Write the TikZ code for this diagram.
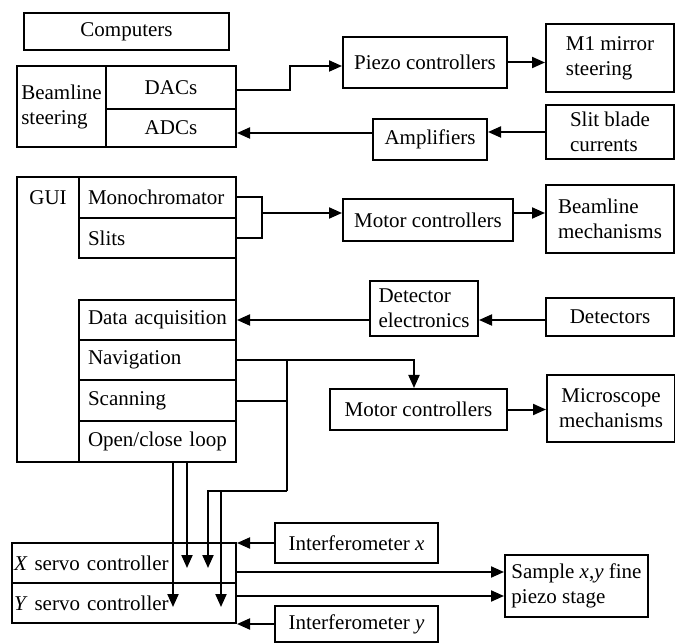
\documentclass[tikz,border=0pt]{standalone}
\usepackage{fontspec}
\setmainfont{Liberation Serif}
\usetikzlibrary{arrows.meta}
\newcommand\myind{\hspace*{9pt}}
\begin{document}
\begin{tikzpicture}[x=1pt,y=-1pt,
  box/.style={draw, line width=2pt, inner sep=0pt, font=\fontsize{21}{25}\selectfont},
  txt/.style={inner sep=0pt, font=\fontsize{21}{25}\selectfont},
  ln/.style={line width=2pt},
  arr/.style={line width=2pt, -{Triangle[length=13pt,width=11pt]}},
  subbox/.style={box, minimum width=157pt, text width=157pt, align=left}
]
\useasboundingbox (0,0) rectangle (675,644);

% top-left block
\node[box, minimum width=205pt, minimum height=37pt] (comp) at (126.5,31.5) {Computers};
\node[box, minimum width=89pt, minimum height=81pt, align=left] (bsl) at (61.5,106.5) {Beamline\\steering};
\node[box, minimum width=130pt, minimum height=43pt] (dacs) at (171,87.5) {DACs};
\node[box, minimum width=130pt, minimum height=38pt] (adcs) at (171,128) {ADCs};

% top-right
\node[box, minimum width=164pt, minimum height=51pt] (piezo) at (425,62.5) {Piezo controllers};
\node[box, minimum width=128pt, minimum height=68pt, align=left] (m1) at (610,58) {M1 mirror\\steering};
\node[box, minimum width=114pt, minimum height=41pt] (amp) at (430,139.5) {Amplifiers};
\node[box, minimum width=128pt, minimum height=54pt, align=left] (slit) at (610,132) {Slit blade\\currents};

% GUI block
\node[box, minimum width=219pt, minimum height=285pt] (gui) at (126.5,319.5) {};
\node[txt] (guil) at (48,198) {GUI};
\node[subbox, minimum height=41pt] (mono) at (157.5,197.5) {\myind Monochromator};
\node[subbox, minimum height=40pt] (slits) at (157.5,238) {\myind Slits};
\node[subbox, minimum height=40pt] (daq) at (157.5,320) {\myind Data acquisition};
\node[subbox, minimum height=40pt] (nav) at (157.5,360) {\myind Navigation};
\node[subbox, minimum height=41pt] (scan) at (157.5,400.5) {\myind Scanning};
\node[subbox, minimum height=41pt] (ocl) at (157.5,441.5) {\myind Open/close loop};

% middle right
\node[box, minimum width=170pt, minimum height=42pt] (motor1) at (428,220) {Motor controllers};
\node[box, minimum width=128pt, minimum height=68pt, align=left] (bmech) at (610,219) {Beamline\\mechanisms};
\node[box, minimum width=108pt, minimum height=55pt, align=left] (dete) at (424,308.5) {Detector\\electronics};
\node[box, minimum width=128pt, minimum height=38pt] (dets) at (610,317) {Detectors};
\node[box, minimum width=177pt, minimum height=41pt] (motor2) at (418.5,409.5) {Motor controllers};
\node[box, minimum width=128pt, minimum height=67pt, align=center] (micro) at (611,408.5) {Microscope\\mechanisms};

% servo block
\node[box, minimum width=224pt, minimum height=40pt, text width=224pt, align=left] (xservo) at (124,563) {\hspace*{2pt}\textit{X} servo controller};
\node[box, minimum width=224pt, minimum height=40pt, text width=224pt, align=left] (yservo) at (124,603) {\hspace*{2pt}\textit{Y} servo controller};
\node[box, minimum width=163pt, minimum height=40pt] (ix) at (356.5,543) {Interferometer \textit{x}};
\node[box, minimum width=163pt, minimum height=36pt] (iy) at (356.5,624) {Interferometer \textit{y}};
\node[box, minimum width=143pt, minimum height=62pt, align=left] (sample) at (576.5,586) {Sample \textit{x},\textit{y} fine\\piezo stage};

% connectors top
\draw[arr] ([yshift=-2.5pt]dacs.east) -- ++(53,0) |- ([yshift=-3.5pt]piezo.west);
\draw[arr] (piezo.east) -- (piezo.east -| m1.west);
\coordinate (a1) at ([yshift=6.5pt]amp.west);
\draw[arr] (a1) -- (a1 -| adcs.east);
\draw[arr] (slit.west) -- (slit.west -| amp.east);

% monochromator / slits
\coordinate (j1) at (262,213);
\draw[ln] (mono.east) -| (slits.east -| j1) -- (slits.east);
\draw[arr] (j1) -- (j1 -| motor1.west);
\draw[arr] (j1 -| motor1.east) -- (j1 -| bmech.west);

% detectors
\draw[arr] (dete.west |- daq.east) -- (daq.east);
\draw[arr] (dets.west |- daq.east) -- (dete.east |- daq.east);

% navigation
\draw[arr] (nav.east) -| ([xshift=-4.5pt]motor2.north);
\draw[arr] (motor2.east) -- (motor2.east -| micro.west);
\coordinate (bus) at (287,491);
\draw[ln] (scan.east) -- (scan.east -| bus);
\draw[ln] (bus |- nav.east) -- (bus);
\draw[arr] (bus) -- (208,491) -- (208,568);
\draw[arr] (221,491) -- (221,607);

% open/close loop
\coordinate (o1) at ([xshift=15.5pt]ocl.south);
\coordinate (o2) at ([xshift=29.5pt]ocl.south);
\draw[arr] (o1) -- (173,607);
\draw[arr] (o2) -- (187,568);

% servo connections
\draw[arr] (ix.west) -- (ix.west -| xservo.east);
\draw[arr] (iy.west |- yservo.south) -- (yservo.south east);
\coordinate (s1) at ([yshift=-9pt]xservo.east);
\coordinate (s2) at ([yshift=7pt]yservo.east);
\draw[arr] (s1) -- (s1 -| sample.west);
\draw[arr] (s2) -- (s2 -| sample.west);
\end{tikzpicture}
\end{document}
